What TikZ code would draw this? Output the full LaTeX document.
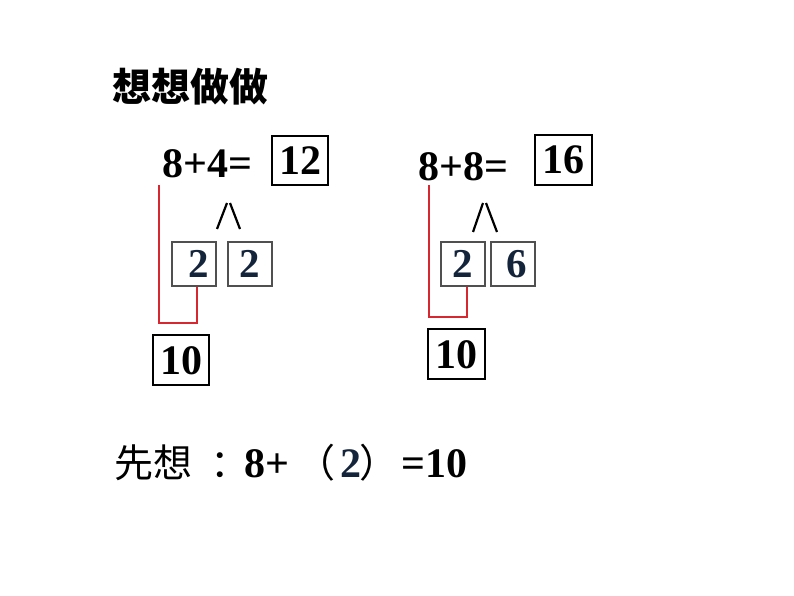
\documentclass[tikz,border=0pt]{standalone}
\usepackage{fontspec}
\setmainfont{Liberation Serif}
\newfontfamily\cjk{Noto Sans CJK SC}
\definecolor{navy}{RGB}{20,36,58}
\definecolor{connred}{RGB}{215,40,50}
\definecolor{boxgray}{RGB}{80,80,80}
\begin{document}
\begin{tikzpicture}[x=1pt,y=-1pt,
  num/.style={inner sep=0pt,anchor=base west,font=\fontsize{42}{48}\selectfont\bfseries},
  box/.style={draw,line width=1.3pt,inner sep=0pt,text height=28pt,text depth=0pt,
     font=\fontsize{42}{48}\selectfont\bfseries},
  sbox/.style={draw=boxgray,line width=1.3pt,inner sep=0pt,minimum width=44pt,minimum height=44pt,
     text height=27pt,text depth=0pt,text=navy,font=\fontsize{41}{46}\selectfont\bfseries},
  conn/.style={color=connred,line width=1.3pt},
  split/.style={line width=2.2pt}]
\useasboundingbox[fill=white] (0,0) rectangle (794,596);
% title
\node[inner sep=0pt,anchor=base west,font=\cjk\bfseries\fontsize{39}{44}\selectfont] (title) at (112,102) {想想做做};
% left group
\node[num] (eqa) at (162,177) {8+4=};
\node[box,minimum width=56pt,minimum height=49pt] (r12) at (300,160.5) {12};
\draw[split] (217,229) -- (227,203);
\draw[split] (230,203) -- (240,229);
\node[sbox] (la) at (194,264) {\hspace{10pt}2};
\node[sbox] (lb) at (250,264) {2\hspace{10pt}};
\node[box,minimum width=56pt,minimum height=50pt] (t1) at (181,360) {10};
\coordinate (ra) at (159,185);
\coordinate (rc) at (197,323);
\draw[conn] (ra) |- (rc) -- ([xshift=3pt]la.south);
% right group
\node[num] (eqb) at (418,180) {8+8=};
\node[box,minimum width=57pt,minimum height=50pt] (r16) at (563.5,160) {16};
\draw[split] (473,232) -- (483,203);
\draw[split] (486,203) -- (497,232);
\node[sbox] (ma) at (463,264) {2};
\node[sbox] (mb) at (513,264) {\hspace{8pt}6};
\node[box,minimum width=57pt,minimum height=50pt] (t2) at (456.5,354) {10};
\coordinate (sa) at (429,185);
\coordinate (sc) at (467,317);
\draw[conn] (sa) |- (sc) -- ([xshift=4pt]ma.south);
% bottom line
\node[inner sep=0pt,anchor=base west,font=\cjk\fontsize{39}{44}\selectfont] (xian) at (114,477) {先想};
\node[inner sep=0pt,anchor=base,font=\cjk\fontsize{39}{44}\selectfont] (colon) at (230,477) {：};
\node[num] (ep) at (244,477) {8+};
\node[inner sep=0pt,anchor=base,font=\cjk\fontsize{39}{44}\selectfont] (lp) at (316,477) {（};
\node[num,text=navy] (two) at (340,477) {2};
\node[inner sep=0pt,anchor=base,font=\cjk\fontsize{39}{44}\selectfont] (rp) at (379,477) {）};
\node[num] (ten) at (401,477) {=10};
\end{tikzpicture}
\end{document}
